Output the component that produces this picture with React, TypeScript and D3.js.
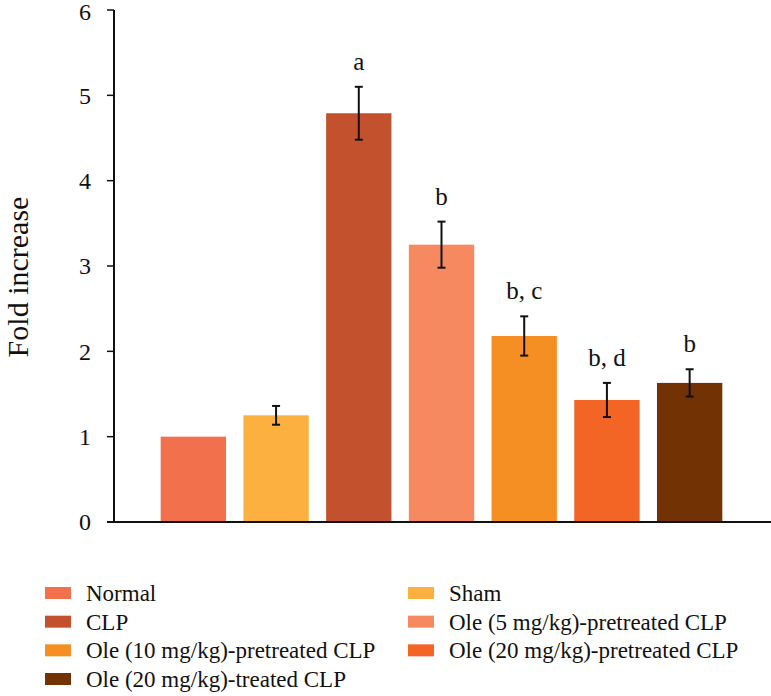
import React from "react";
import * as d3 from "d3";

const categories = [
  "Normal",
  "Sham",
  "CLP",
  "Ole (5 mg/kg)-pretreated CLP",
  "Ole (10 mg/kg)-pretreated CLP",
  "Ole (20 mg/kg)-pretreated CLP",
  "Ole (20 mg/kg)-treated CLP",
];
const values = [1.0, 1.25, 4.79, 3.25, 2.18, 1.43, 1.63];
const errors = [0, 0.11, 0.31, 0.27, 0.23, 0.2, 0.16];
const sigLabels = ["", "", "a", "b", "b, c", "b, d", "b"];
const colors = ["#F2704C", "#FBB040", "#C4512E", "#F6895F", "#F58E23", "#F26524", "#723203"];
const yTicks = [0, 1, 2, 3, 4, 5, 6];
const legendOrder = [0, 1, 2, 3, 4, 5, 6];

const W = 771;
const H = 696;
const FONT = "'Liberation Serif', 'DejaVu Serif', serif";

export default function App() {
  const y = d3.scaleLinear().domain([0, 6]).range([522, 10]);
  const x = d3
    .scaleBand<string>()
    .domain(categories)
    .range([152, 731])
    .paddingInner(0.21)
    .paddingOuter(0.105);
  const axisX = 114;
  const legendCols = [45, 408];
  const legendRowY = d3.scaleLinear().domain([0, 3]).range([593, 679]);

  return (
    <svg
      width={W}
      height={H}
      style={{ position: "absolute", left: 0, top: 0, background: "#fff" }}
      fontFamily={FONT}
    >
      {categories.map((c, i) => (
        <rect
          key={c}
          x={x(c)}
          y={y(values[i])}
          width={x.bandwidth()}
          height={y(0) - y(values[i])}
          fill={colors[i]}
        />
      ))}
      {categories.map((c, i) => {
        if (!errors[i]) return null;
        const cx = (x(c) as number) + x.bandwidth() / 2;
        const t = y(values[i] + errors[i]);
        const b = y(values[i] - errors[i]);
        return (
          <g key={"e" + c} stroke="#111" strokeWidth={2}>
            <line x1={cx} x2={cx} y1={t} y2={b} />
            <line x1={cx - 4} x2={cx + 4} y1={t} y2={t} />
            <line x1={cx - 4} x2={cx + 4} y1={b} y2={b} />
          </g>
        );
      })}
      {categories.map((c, i) => {
        if (!sigLabels[i]) return null;
        const cx = (x(c) as number) + x.bandwidth() / 2;
        return (
          <text
            key={"s" + c}
            x={cx}
            y={y(values[i] + errors[i]) - 17}
            textAnchor="middle"
            fontSize={25}
            fill="#111"
          >
            {sigLabels[i]}
          </text>
        );
      })}
      <line x1={axisX} x2={axisX} y1={y(6)} y2={y(0)} stroke="#111" strokeWidth={2} />
      <line x1={107} x2={W} y1={y(0)} y2={y(0)} stroke="#111" strokeWidth={2} />
      {yTicks.map((t) => (
        <g key={"t" + t}>
          <line x1={107} x2={axisX} y1={y(t)} y2={y(t)} stroke="#111" strokeWidth={1.5} />
          <text x={91} y={Math.max(y(t), 12)} dy="0.35em" textAnchor="end" fontSize={24} fill="#111">
            {t}
          </text>
        </g>
      ))}
      <text
        transform={`translate(28, 277) rotate(-90)`}
        textAnchor="middle"
        fontSize={30}
        fill="#111"
      >
        Fold increase
      </text>
      {legendOrder.map((idx, k) => {
        const col = k % 2;
        const row = Math.floor(k / 2);
        const lx = legendCols[col];
        const ly = legendRowY(row);
        return (
          <g key={"l" + idx}>
            <rect x={lx} y={ly - 6} width={26} height={12} fill={colors[idx]} />
            <text x={lx + 41} y={ly} dy="0.35em" fontSize={23} fill="#111">
              {categories[idx]}
            </text>
          </g>
        );
      })}
    </svg>
  );
}
